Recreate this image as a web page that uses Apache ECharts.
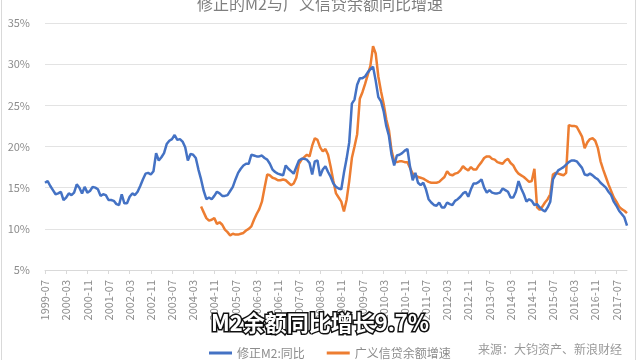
<!DOCTYPE html>
<html>
<head>
<meta charset="utf-8">
<script src="https://cdn.jsdelivr.net/npm/echarts@6/dist/echarts.min.js"></script>
<style>
html,body{margin:0;padding:0;background:#fff;}
#c{width:640px;height:360px;}
</style>
</head>
<body>
<div id="c"></div>
<script>
// Months from 1999-07 to 2017-11
var startYear = 1999, startMonth = 7, monthCount = 221;
var categories = [];
for (var i = 0; i < monthCount; i++) {
  var m = startMonth - 1 + i;
  var y = startYear + Math.floor(m / 12);
  var mm = (m % 12) + 1;
  categories.push(y + '-' + (mm < 10 ? '0' + mm : '' + mm));
}

var seriesNames = ['修正M2:同比', '广义信贷余额增速'];

// 修正M2:同比 (%), 1999-07 .. 2017-11
var m2Growth = [
15.6,15.8,15.2,14.7,14.2,14.3,14.5,13.5,13.8,14.3,
14.1,14.4,15.4,15.0,14.3,15.1,14.4,14.6,15.1,15.0,
14.8,14.0,14.2,14.1,13.5,13.5,13.4,13.0,12.9,14.2,
13.1,13.1,13.9,14.3,14.1,14.5,15.2,16.0,16.7,16.8,
16.6,17.0,19.2,18.3,18.7,19.2,20.3,20.7,20.9,21.4,
20.8,20.9,20.6,19.9,18.3,19.1,19.0,18.6,17.2,16.0,
14.6,13.6,13.8,13.6,14.0,14.5,14.3,14.0,14.0,14.1,
14.6,15.1,16.0,16.8,17.3,17.7,17.9,17.9,19.0,18.9,
18.8,18.8,18.9,18.6,18.4,17.9,17.2,16.9,16.7,16.6,
16.5,17.7,17.3,17.0,16.7,17.5,18.3,18.5,18.5,18.4,
18.0,16.6,18.2,18.3,16.4,17.2,17.6,16.9,16.3,15.5,
15.1,14.9,14.8,16.8,18.5,20.5,25.2,25.7,27.5,28.3,
28.3,28.5,29.0,29.4,29.7,28.0,26.0,25.5,24.3,22.5,
21.3,19.0,17.7,18.9,19.0,19.2,19.5,19.7,17.5,15.9,
16.8,15.6,15.3,15.6,14.8,13.6,13.2,12.9,12.8,13.2,
12.6,12.6,13.2,13.0,12.9,13.4,13.6,13.9,14.3,14.5,
13.9,14.8,15.5,15.5,15.7,16.0,15.0,14.4,14.7,14.4,
14.3,14.3,14.4,14.9,14.7,14.5,13.8,13.8,14.5,15.8,
14.9,14.2,13.3,13.6,13.4,12.9,13.0,12.6,12.3,12.1,
12.6,13.3,16.0,16.6,17.1,17.3,17.5,17.8,18.1,18.3,
18.3,18.2,17.8,17.4,16.6,16.5,16.7,16.5,16.2,16.0,
15.6,15.3,15.0,14.5,14.1,13.3,12.8,12.2,11.8,11.4,
10.4
];

// 广义信贷余额增速 (%), starts 2004-06
var creditStart = '2004-06';
var creditGrowth = [
12.7,12.0,11.3,11.0,11.1,11.3,10.6,10.8,10.5,9.9,
9.6,9.2,9.4,9.3,9.3,9.4,9.5,9.8,10.0,10.3,
11.1,11.8,12.4,13.3,15.0,16.6,16.5,16.2,16.1,15.9,
15.9,16.0,15.9,15.6,15.3,15.5,16.2,17.9,18.4,18.7,
19.0,18.8,20.1,21.0,20.8,19.9,19.4,19.7,19.0,17.5,
15.8,14.3,13.8,13.3,12.1,13.5,15.8,18.6,20.0,21.5,
25.8,26.6,27.6,28.7,29.8,32.2,31.3,28.5,26.7,25.2,
23.3,22.0,19.5,18.2,18.1,18.2,18.2,18.1,18.1,17.4,
16.7,16.5,16.3,16.2,16.1,15.9,15.7,15.6,15.6,15.6,
15.7,16.0,16.3,17.0,16.6,16.5,16.7,16.8,17.1,17.6,
17.3,17.1,17.5,17.2,17.2,17.7,18.1,18.6,18.8,18.8,
18.5,18.4,18.1,18.0,17.9,18.3,18.5,18.0,17.7,17.1,
16.7,16.5,16.3,16.0,15.7,15.8,17.3,12.6,12.3,12.7,
13.2,13.6,14.2,16.6,16.8,16.7,16.6,16.5,16.8,22.6,
22.5,22.5,22.4,21.8,21.2,19.8,20.5,20.9,21.0,20.7,
19.8,18.2,17.2,16.3,15.4,14.6,13.8,13.3,12.7,12.4,
12.2,11.9
];

var titleText = '修正的M2与广义信贷余额同比增速';
var captionText = 'M2余额同比增长9.7%';
var sourceText = '来源：大钧资产、新浪财经';

var creditFull = [];
var offset = categories.indexOf(creditStart);
for (var k = 0; k < categories.length; k++) {
  var j = k - offset;
  creditFull.push(j >= 0 && j < creditGrowth.length ? creditGrowth[j] : null);
}

var FONT = '"Noto Sans CJK SC", "Noto Sans", sans-serif';
var chart = echarts.init(document.getElementById('c'), null, {renderer: 'canvas'});
chart.setOption({
  animation: false,
  backgroundColor: '#ffffff',
  textStyle: {fontFamily: FONT},
  title: {
    text: titleText,
    left: 'center',
    top: -9,
    textStyle: {fontSize: 16, color: '#7f7f7f', fontWeight: 'normal', fontFamily: FONT}
  },
  grid: {left: 45, right: 13, top: 23, bottom: 90},
  legend: {
    data: seriesNames,
    left: 204,
    top: 342,
    itemWidth: 23,
    itemHeight: 3,
    itemGap: 22,
    icon: 'rect',
    textStyle: {fontSize: 12, color: '#8c8c8c', fontFamily: FONT}
  },
  xAxis: {
    type: 'category',
    data: categories,
    boundaryGap: false,
    axisLine: {lineStyle: {color: '#d9d9d9'}},
    axisTick: {show: true, interval: 7, length: 4, lineStyle: {color: '#d9d9d9'}},
    axisLabel: {interval: 7, rotate: 90, fontSize: 11, color: '#8c8c8c', margin: 10, fontFamily: FONT}
  },
  yAxis: {
    type: 'value',
    min: 5,
    max: 35,
    interval: 5,
    axisLine: {show: false},
    axisTick: {show: false},
    axisLabel: {formatter: '{value}%', fontSize: 11, color: '#8c8c8c', margin: 15, fontFamily: FONT},
    splitLine: {lineStyle: {color: '#e3e3e3', width: 1}}
  },
  series: [
    {
      name: seriesNames[0], type: 'line', data: m2Growth, showSymbol: false,
      lineStyle: {color: '#4472C4', width: 2.5}, itemStyle: {color: '#4472C4'}, z: 3
    },
    {
      name: seriesNames[1], type: 'line', data: creditFull, showSymbol: false,
      lineStyle: {color: '#ED7D31', width: 2.5}, itemStyle: {color: '#ED7D31'}, z: 2
    }
  ],
  graphic: [
    {type: 'line', shape: {x1: 1.5, y1: 0, x2: 1.5, y2: 360}, style: {stroke: '#d9d9d9', lineWidth: 1}},
    {type: 'line', shape: {x1: 635.5, y1: 0, x2: 635.5, y2: 360}, style: {stroke: '#d9d9d9', lineWidth: 1}},
    {type: 'text', left: 478, top: 343, style: {text: sourceText, fontSize: 12, fill: '#9a9a9a', fontFamily: FONT}},
    {type: 'text', z: 100, left: 'center', top: 310,
     style: {text: captionText, fontSize: 22, fill: '#ffffff', stroke: '#111111', lineWidth: 3, fontFamily: FONT, fontWeight: 'bold'}}
  ]
});
</script>
</body>
</html>
